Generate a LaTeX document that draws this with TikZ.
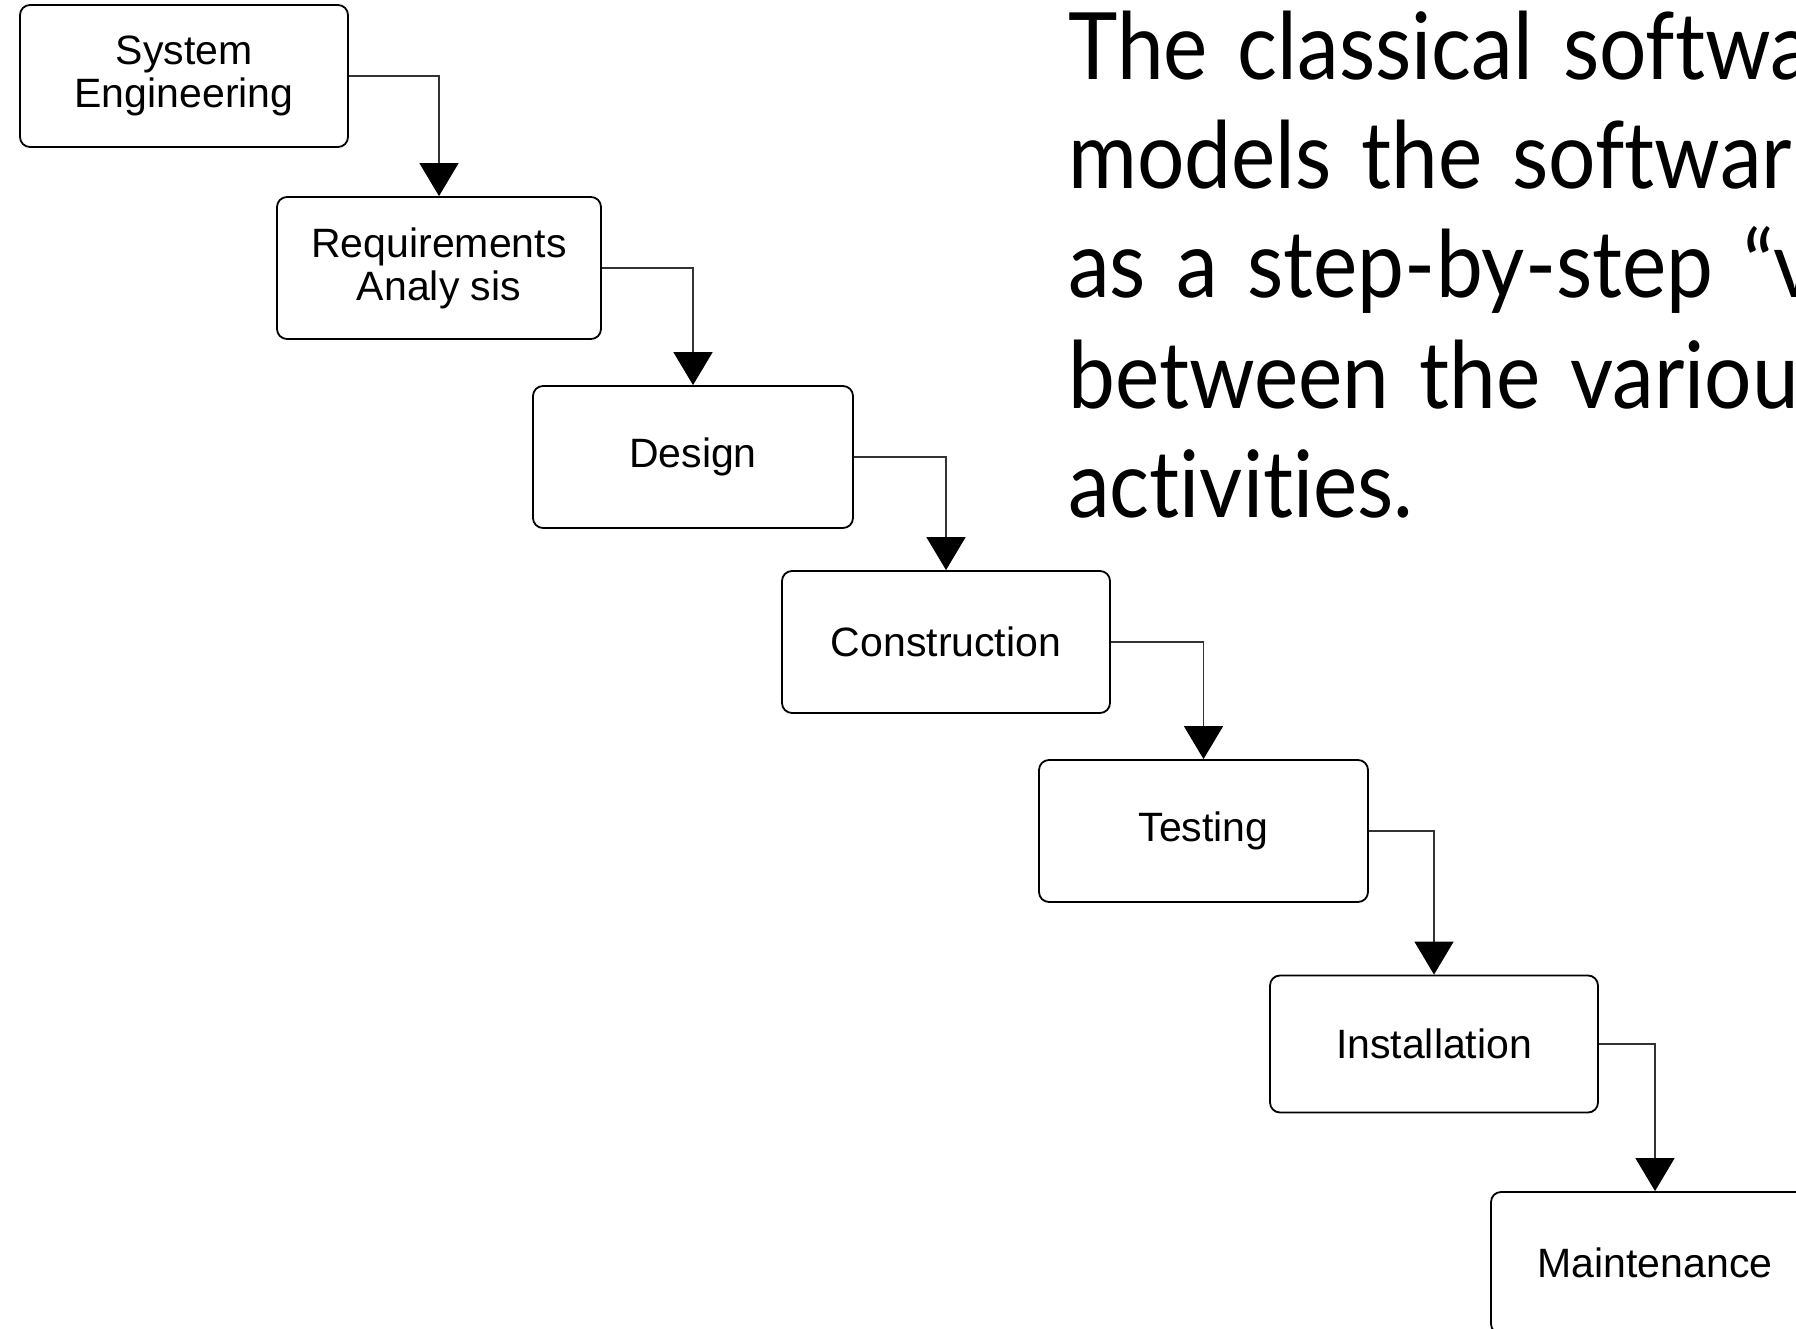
\documentclass[tikz,border=0pt]{standalone}
\usepackage{fontspec}
\setmainfont{Liberation Sans}
\newfontfamily\gillfont[Ligatures=NoCommon,FakeStretch=0.9,WordSpace=1.4]{Lato}
\usetikzlibrary{arrows.meta}
\begin{document}
\begin{tikzpicture}[x=1pt,y=-1pt,
  box/.style={draw=black, line width=1.8pt, rounded corners=10pt,
    minimum width=#1, minimum height=142pt, inner sep=0pt, align=center,
    font=\fontsize{41}{43}\selectfont},
  box/.default=328pt,
  conn/.style={draw=black!80, line width=1.5pt,
    -{Triangle[width=39pt,length=33pt,color=black]}},
  bigtext/.style={anchor=base west, inner sep=0pt,
    font=\gillfont\fontsize{93}{100}\selectfont}]
\useasboundingbox (0,0) rectangle (1796,1329);
\fill[white] (0,0) rectangle (1796,1329);
\clip (0,0) rectangle (1796,1329);

\node[box] (se) at (184,76) {System\\Engineering};
\node[box=324pt] (ra) at (439,268) {Requirements\\Analy sis};
\node[box=320pt] (de) at (693,457) {Design};
\node[box] (co) at (946,642) {Construction};
\node[box=329pt] (te) at (1203.5,831) {Testing};
\node[box, minimum height=137pt] (in) at (1434,1044) {Installation};
\node[box] (ma) at (1655,1263) {Maintenance};

\draw[conn] (se.east) -| (ra.north);
\draw[conn] (ra.east) -| (de.north);
\draw[conn] (de.east) -| (co.north);
\draw[conn] (co.east) -| (te.north);
\draw[conn] (te.east) -| (in.north);
\draw[conn] (in.east) -| (ma.north);

\node[bigtext] (t1) at (1068,80) {The classical softwa};
\node[bigtext] (t2) at (1068,189) {models the softwar};
\node[bigtext] (t3) at (1068,298) {as a step-by-step “v};
\node[bigtext] (t4) at (1068,408) {between the variou};
\node[bigtext] (t5) at (1068,517) {activities.};
\end{tikzpicture}
\end{document}
